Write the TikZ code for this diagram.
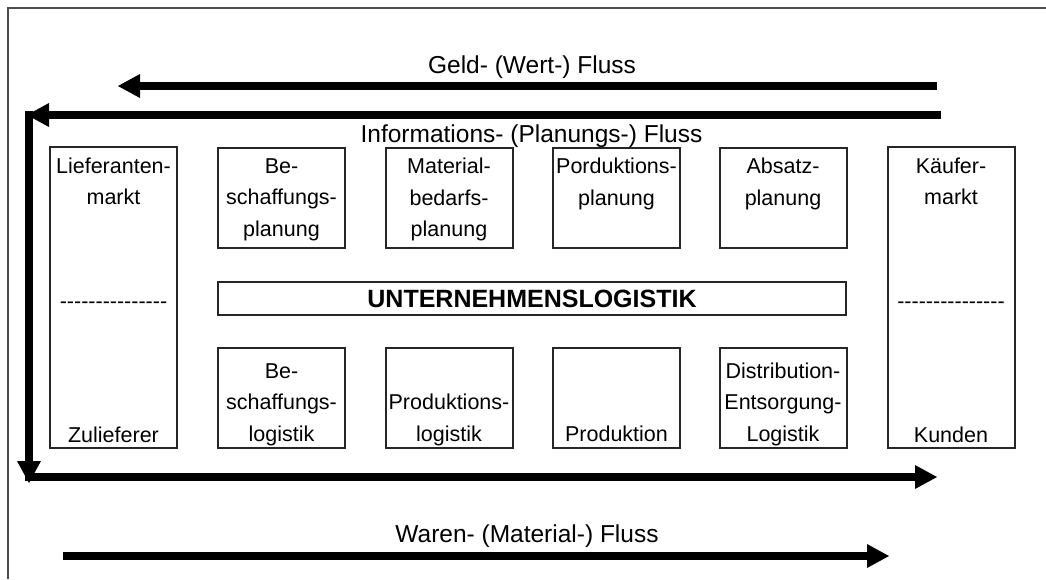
\documentclass[tikz,border=0pt]{standalone}
\usepackage{fontspec}
\setmainfont{Liberation Sans}
\usetikzlibrary{arrows.meta}
% a hyphen that never joins its neighbour into a dash ligature
\newcommand\dashseg{-\kern0pt }
\begin{document}
\begin{tikzpicture}[x=1pt,y=-1pt,
  frame/.style={draw=black!70, line width=2pt},
  panel/.style={draw=black!85, line width=2pt, inner sep=0pt, minimum width=127pt},
  smallbox/.style={panel, minimum height=100pt},
  tallbox/.style={panel, minimum height=301pt},
  boxtext/.style={font=\fontsize{21.5}{31.5}\selectfont, align=center, inner sep=0pt},
  flowtext/.style={font=\fontsize{24.5}{29}\selectfont, inner sep=0pt, anchor=base},
  flow/.style={line width=8pt, -{Triangle[length=22pt,width=24pt,line width=0pt]}}
]
\fill[white] (0,0) rectangle (1046,579);
\useasboundingbox (0,0) rectangle (1046,579);

% outer frame
\coordinate (frameR) at (1046,8);
\coordinate (frameC) at (8,8);
\coordinate (frameB) at (8,579);
\draw[frame] (frameR) -- (frameC) -- (frameB);

% markets on both sides
\node[tallbox] (lief) at (113.5,297.5) {};
\node[tallbox] (kauf) at (951,297.5) {};

% planning row
\node[smallbox] (bplan) at (281.5,197.5) {};
\node[smallbox] (mplan) at (449,197.5) {};
\node[smallbox] (pplan) at (616.5,197.5) {};
\node[smallbox] (aplan) at (783,197.5) {};

% central bar
\node[panel, minimum width=628pt, minimum height=33pt] (ul) at (532,298.5)
  {\fontsize{25}{30}\selectfont\bfseries UNTERNEHMENSLOGISTIK};

% logistics row
\node[smallbox] (blog) at (281.5,398) {};
\node[smallbox] (plog) at (449,398) {};
\node[smallbox] (prod) at (616.5,398) {};
\node[smallbox] (dlog) at (783,398) {};

% texts at the top of the boxes
\node[boxtext, anchor=north] (liefA) at ([yshift=-11.6pt]lief.north) {Lieferanten-\\markt};
\node[boxtext, anchor=north] (kaufA) at ([yshift=-11.6pt]kauf.north) {Käufer-\\markt};
\node[boxtext, anchor=north] (bplanT) at ([yshift=-11.6pt]bplan.north) {Be-\\schaffungs-\\planung};
\node[boxtext, anchor=north] (mplanT) at ([yshift=-11.6pt]mplan.north) {Material-\\bedarfs-\\planung};
\node[boxtext, anchor=north] (pplanT) at ([yshift=-11.6pt]pplan.north) {Porduktions-\\planung};
\node[boxtext, anchor=north] (aplanT) at ([yshift=-11.6pt]aplan.north) {Absatz-\\planung};

% separators in the market boxes
\node[boxtext, anchor=base] (liefD) at (113.5,308) {\dashseg\dashseg\dashseg\dashseg\dashseg\dashseg\dashseg\dashseg\dashseg\dashseg\dashseg\dashseg\dashseg\dashseg\dashseg};
\node[boxtext, anchor=base] (kaufD) at (951,308) {\dashseg\dashseg\dashseg\dashseg\dashseg\dashseg\dashseg\dashseg\dashseg\dashseg\dashseg\dashseg\dashseg\dashseg\dashseg};

% texts at the bottom of the boxes
\node[boxtext, anchor=base] (liefZ) at (113.5,442) {Zulieferer};
\node[boxtext, anchor=base] (kaufZ) at (951,442) {Kunden};
\node[boxtext, anchor=base] (blogT) at (281.5,441) {Be-\\schaffungs-\\logistik};
\node[boxtext, anchor=base] (plogT) at (449,441) {Produktions-\\logistik};
\node[boxtext, anchor=base] (prodT) at (616.5,441) {Produktion};
\node[boxtext, anchor=base] (dlogT) at (783,441) {Distribution-\\Entsorgung-\\Logistik};

% flow labels
\node[flowtext] (geld) at (532,73) {Geld- (Wert-) Fluss};
\node[flowtext] (info) at (531.5,142) {Informations- (Planungs-) Fluss};
\node[flowtext] (waren) at (527,542) {Waren- (Material-) Fluss};

% flow arrows
\coordinate (geldR) at (937,86);
\coordinate (geldL) at (118,86);
\coordinate (infoR) at (941,115);
\coordinate (infoL) at (27,115);
\coordinate (downT) at (29,111);
\coordinate (downB) at (29,483);
\coordinate (backL) at (25,477);
\coordinate (backR) at (937,477);
\coordinate (warenL) at (63,556);
\coordinate (warenR) at (889,556);
\draw[flow] (geldR) -- (geldL);
\draw[flow] (infoR) -- (infoL);
\draw[flow] (downT) -- (downB);
\draw[flow] (backL) -- (backR);
\draw[flow] (warenL) -- (warenR);
\end{tikzpicture}
\end{document}
